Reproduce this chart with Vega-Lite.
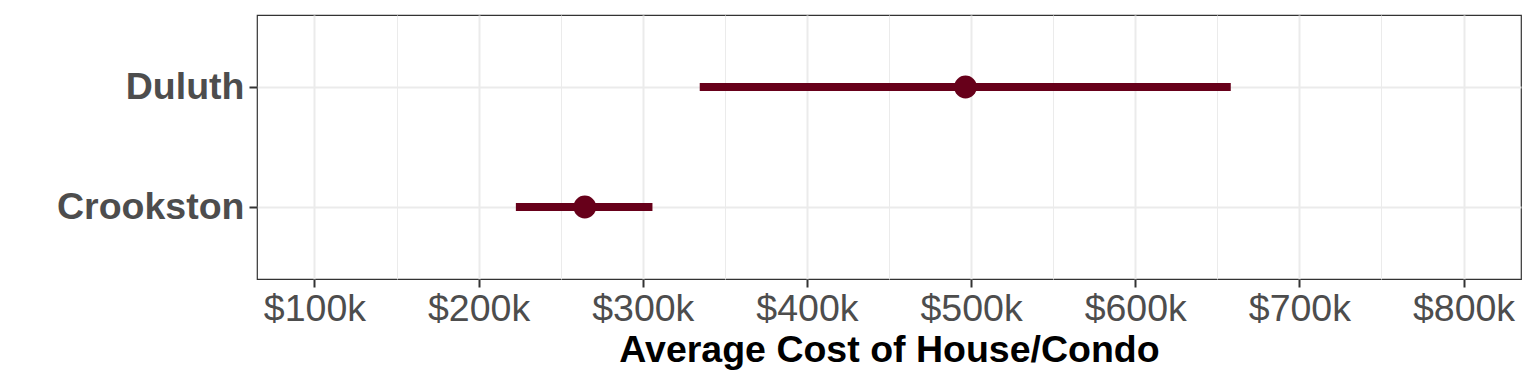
{
  "$schema": "https://vega.github.io/schema/vega-lite/v6.json",
  "width": 1264,
  "height": 264,
  "autosize": "none",
  "padding": {"left": 257, "top": 15, "right": 15, "bottom": 105},
  "background": "white",
  "config": {
    "font": "Liberation Sans",
    "view": {"stroke": "#333333", "strokeWidth": 1.2}
  },
  "data": {
    "values": [
      {"city": "Duluth", "mean": 496600, "low": 334700, "high": 658200},
      {"city": "Crookston", "mean": 264700, "low": 222700, "high": 305900}
    ]
  },
  "encoding": {
    "y": {
      "field": "city",
      "type": "nominal",
      "sort": ["Duluth", "Crookston"],
      "scale": {"type": "point", "padding": 0.6},
      "axis": {
        "title": null,
        "domain": false,
        "grid": true,
        "gridColor": "#ebebeb",
        "gridWidth": 2,
        "labelFontSize": 37.5,
        "labelFontWeight": "bold",
        "labelColor": "#4d4d4d",
        "labelPadding": 5,
        "labelLimit": 0,
        "tickSize": 8,
        "tickWidth": 2,
        "tickColor": "#333333"
      }
    }
  },
  "layer": [
    {
      "mark": {"type": "rule", "color": "#67001a", "strokeWidth": 8, "strokeCap": "butt"},
      "encoding": {
        "x": {
          "field": "low",
          "type": "quantitative",
          "scale": {"domain": [65000, 835000], "nice": false, "zero": false},
          "axis": {
            "orient": "bottom",
            "values": [100000, 200000, 300000, 400000, 500000, 600000, 700000, 800000],
            "labelExpr": "'$' + format(datum.value / 1000, 'd') + 'k'",
            "labelFontSize": 37.5,
            "labelColor": "#4d4d4d",
            "labelPadding": 3,
            "tickSize": 8,
            "tickWidth": 2,
            "tickColor": "#333333",
            "domain": false,
            "grid": true,
            "gridColor": "#ebebeb",
            "gridWidth": 2,
            "title": "Average Cost of House/Condo",
            "titleFontSize": 37.5,
            "titleFontWeight": "bold",
            "titleColor": "#000000",
            "titlePadding": 4
          }
        },
        "x2": {"field": "high"}
      }
    },
    {
      "mark": {"type": "circle", "color": "#67001a", "opacity": 1, "size": 520},
      "encoding": {
        "x": {
          "field": "mean",
          "type": "quantitative",
          "axis": {
            "orient": "top",
            "values": [150000, 250000, 350000, 450000, 550000, 650000, 750000],
            "labels": false,
            "ticks": false,
            "domain": false,
            "grid": true,
            "gridColor": "#ebebeb",
            "gridWidth": 1,
            "title": null
          }
        }
      }
    }
  ],
  "resolve": {"axis": {"x": "independent"}}
}
